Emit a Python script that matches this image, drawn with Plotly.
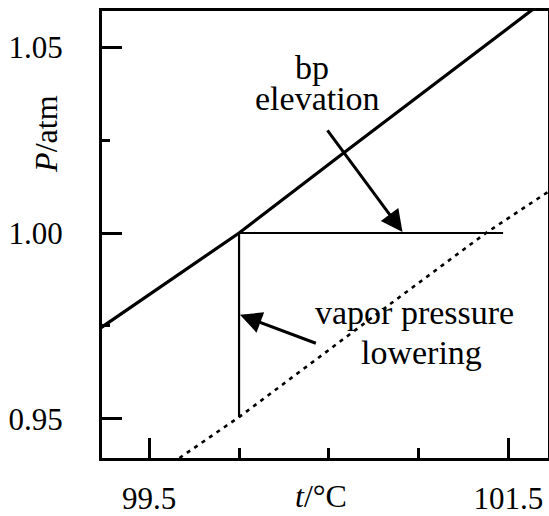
import plotly.graph_objects as go

# Pure solvent vapor-pressure curve (t in °C, P in atm)
solvent_t = [99.2, 100.0, 100.6, 101.7]
solvent_p = [0.9735, 1.000, 1.0222, 1.0625]

# Solution vapor-pressure curve (dashed)
solution_t = [99.668, 100.0, 100.894, 101.38, 101.75]
solution_p = [0.9395, 0.9505, 0.9828, 1.0002, 1.012]

# Construction lines
horiz_t = [100.0, 101.47]
horiz_p = [1.00, 1.00]
vert_t = [100.0, 100.0]
vert_p = [1.00, 0.9505]

x_major = [99.5, 101.5]
x_major_labels = ["99.5", "101.5"]
x_minor = [100.0, 100.5, 101.0]
y_major = [0.95, 1.00, 1.05]
y_major_labels = ["0.95", "1.00", "1.05"]
y_minor = [0.975, 1.025]

FONT = "Liberation Serif"

fig = go.Figure()
fig.add_trace(go.Scatter(x=solvent_t, y=solvent_p, mode="lines",
                         line=dict(color="black", width=3.2), hoverinfo="skip"))
fig.add_trace(go.Scatter(x=solution_t, y=solution_p, mode="lines",
                         line=dict(color="black", width=2.6, dash="4px,5px"), hoverinfo="skip"))
fig.add_trace(go.Scatter(x=horiz_t, y=horiz_p, mode="lines",
                         line=dict(color="black", width=2.2), hoverinfo="skip"))
fig.add_trace(go.Scatter(x=vert_t, y=vert_p, mode="lines",
                         line=dict(color="black", width=2.2), hoverinfo="skip"))

# arrows
fig.add_annotation(x=100.91, y=1.0003, ax=100.486, ay=1.028, xref="x", yref="y",
                   axref="x", ayref="y", showarrow=True, arrowhead=2, arrowsize=1.45,
                   arrowwidth=3, arrowcolor="black", text="")
fig.add_annotation(x=100.005, y=0.978, ax=100.436, ay=0.9702, xref="x", yref="y",
                   axref="x", ayref="y", showarrow=True, arrowhead=2, arrowsize=1.45,
                   arrowwidth=3, arrowcolor="black", text="")

tf = dict(family=FONT, size=34, color="black")
fig.add_annotation(x=100.408, y=1.0446, text="bp", showarrow=False, font=tf)
fig.add_annotation(x=100.436, y=1.0362, text="elevation", showarrow=False, font=tf)
fig.add_annotation(x=100.978, y=0.9785, text="vapor pressure", showarrow=False, font=tf)
fig.add_annotation(x=101.017, y=0.968, text="lowering", showarrow=False, font=tf)

# axis titles as annotations
fig.add_annotation(x=-0.126, y=1.0266, xref="paper", yref="y", text="<i>P</i>/atm",
                   xanchor="center", yanchor="middle",
                   textangle=-90, showarrow=False, font=dict(family=FONT, size=32, color="black"))
fig.add_annotation(x=0.49, y=-0.085, xref="paper", yref="paper", text="<i>t</i>/°C",
                   xanchor="center", yanchor="middle",
                   showarrow=False, font=dict(family=FONT, size=32, color="black"))

fig.update_xaxes(range=[99.237, 101.72], showgrid=False, zeroline=False, automargin=False,
                 showline=True, linecolor="black", linewidth=3, mirror=True,
                 tickmode="array", tickvals=x_major, ticktext=x_major_labels,
                 ticks="inside", ticklen=20, tickwidth=2.5, tickcolor="black",
                 ticklabelstandoff=11,
                 tickfont=dict(family=FONT, size=31, color="black"),
                 minor=dict(tickvals=x_minor, ticks="inside", ticklen=10, tickwidth=2.5,
                            tickcolor="black"))
fig.update_yaxes(range=[0.9395, 1.0597], showgrid=False, zeroline=False, automargin=False,
                 showline=True, linecolor="black", linewidth=3, mirror=True,
                 tickmode="array", tickvals=y_major, ticktext=y_major_labels,
                 ticks="inside", ticklen=20, tickwidth=2.5, tickcolor="black",
                 ticklabelstandoff=30,
                 tickfont=dict(family=FONT, size=31, color="black"),
                 minor=dict(tickvals=y_minor, ticks="inside", ticklen=8, tickwidth=3,
                            tickcolor="black"))

fig.update_layout(width=549, height=516, showlegend=False,
                  margin=dict(l=102, r=1, t=11, b=58),
                  plot_bgcolor="white", paper_bgcolor="white")

fig.write_html("out.html", config={"displayModeBar": False},
               post_script="document.body.style.margin='0';document.body.style.padding='0';"
                           "document.documentElement.style.overflow='hidden';")
